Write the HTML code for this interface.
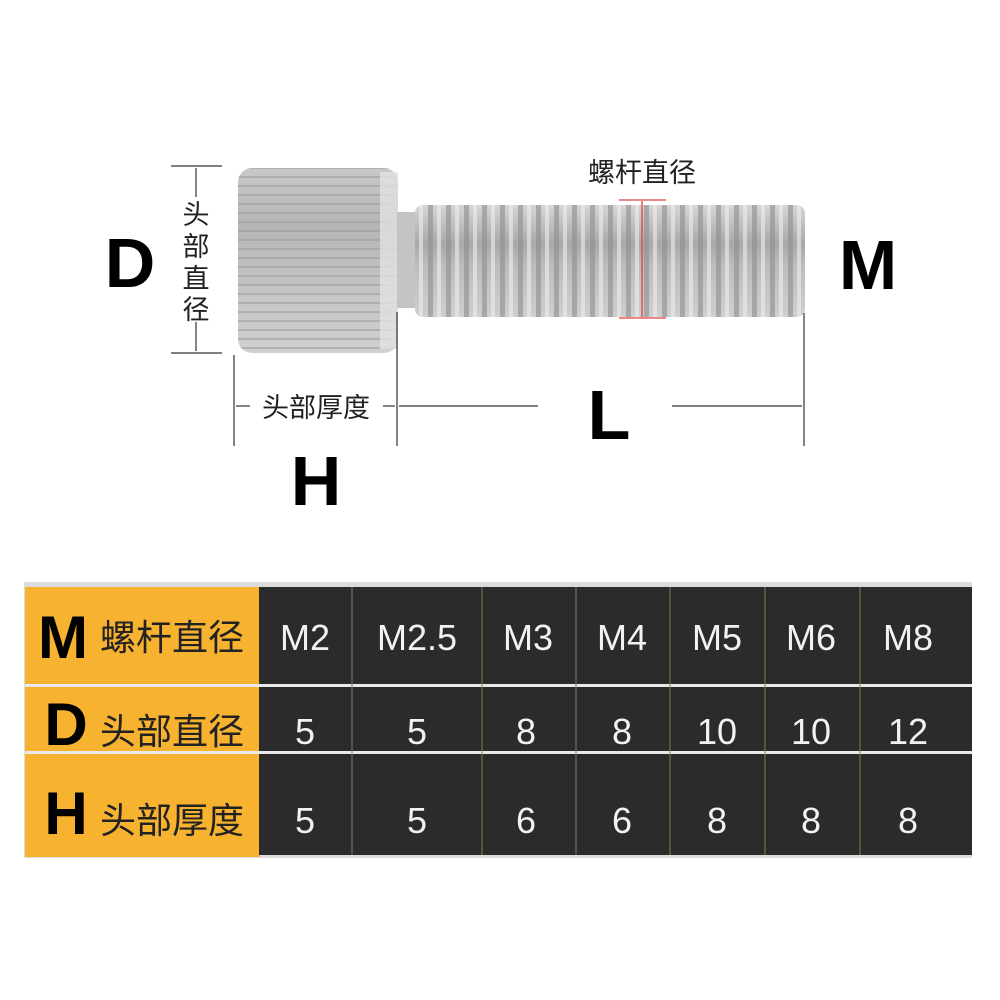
<!DOCTYPE html>
<html><head><meta charset="utf-8"><style>
html,body{margin:0;padding:0;background:#fff;width:1000px;height:1000px;overflow:hidden}
svg{display:block}
text{font-family:"Liberation Sans","Noto Sans CJK SC",sans-serif}
</style></head><body>
<svg width="1000" height="1000" viewBox="0 0 1000 1000" xmlns="http://www.w3.org/2000/svg">
<defs>
<linearGradient id="hg" x1="0" y1="0" x2="0" y2="1">
<stop offset="0" stop-color="#c9c9c9"/><stop offset="0.3" stop-color="#b5b5b5"/><stop offset="0.6" stop-color="#c2c2c2"/><stop offset="1" stop-color="#d0d0d0"/></linearGradient>
<linearGradient id="sg" x1="0" y1="0" x2="0" y2="1">
<stop offset="0" stop-color="#d6d6d6"/><stop offset="0.35" stop-color="#a9a9a9"/><stop offset="0.55" stop-color="#bdbdbd"/><stop offset="1" stop-color="#cfcfcf"/></linearGradient>
<pattern id="knurl" width="160" height="9" patternUnits="userSpaceOnUse">
<rect width="160" height="9" fill="none"/><rect y="5" width="160" height="2" fill="#9a9a9a" opacity="0.55"/></pattern>
<pattern id="thr" width="18" height="120" patternUnits="userSpaceOnUse" x="410">
<rect x="0" width="5" height="120" fill="#8e8e8e" opacity="0.6"/><rect x="9" width="4" height="120" fill="#eeeeee" opacity="0.6"/></pattern>
</defs>

<rect x="238" y="168" width="160" height="185" rx="14" fill="url(#hg)"/>
<rect x="238" y="168" width="160" height="185" rx="14" fill="url(#knurl)"/>
<rect x="380" y="172" width="18" height="177" fill="#e2e2e2" opacity="0.8"/>
<rect x="397" y="212" width="30" height="96" fill="#c4c4c4"/>
<rect x="415" y="205" width="390" height="112" rx="8" fill="url(#sg)"/>
<rect x="415" y="205" width="390" height="112" rx="8" fill="url(#thr)"/>

<g stroke="#e04040" stroke-width="1.3">
<line x1="619" y1="200" x2="666" y2="200"/><line x1="619" y1="318" x2="666" y2="318"/>
<line x1="642" y1="201" x2="642" y2="317"/></g>

<g stroke="#333" stroke-width="1.2">
<line x1="171" y1="166" x2="222" y2="166"/><line x1="171" y1="353" x2="222" y2="353"/>
<line x1="196" y1="168" x2="196" y2="197"/><line x1="196" y1="322" x2="196" y2="351"/>
<line x1="234" y1="355" x2="234" y2="446"/><line x1="397" y1="312" x2="397" y2="446"/>
<line x1="804" y1="313" x2="804" y2="446"/>
<line x1="236" y1="406" x2="250" y2="406"/><line x1="383" y1="406" x2="395" y2="406"/>
<line x1="399" y1="406" x2="538" y2="406"/><line x1="672" y1="406" x2="802" y2="406"/>
</g>
<g font-size="27" text-anchor="middle" fill="#222">
<text x="196" y="224">头</text><text x="196" y="256">部</text><text x="196" y="288">直</text><text x="196" y="319">径</text>
<text x="316" y="417">头部厚度</text>
<text x="642" y="182">螺杆直径</text></g>
<g font-size="70" font-weight="bold" text-anchor="middle">
<text x="130" y="287">D</text><text x="868" y="289">M</text><text x="609" y="439">L</text><text x="316" y="505">H</text></g>

<rect x="24" y="582" width="948" height="276" fill="#dcdcdc"/>
<rect x="25" y="587" width="235" height="270" fill="#f7b22f"/>
<rect x="259" y="587" width="713" height="268" fill="#2b2b2b"/>
<g fill="#e9e9e9"><rect x="25" y="684" width="947" height="3"/><rect x="25" y="751" width="947" height="3"/></g>
<g stroke="#8a7a50" stroke-width="1"><line x1="352" y1="587" x2="352" y2="855"/><line x1="482" y1="587" x2="482" y2="855"/><line x1="576" y1="587" x2="576" y2="855"/><line x1="670" y1="587" x2="670" y2="855"/><line x1="765" y1="587" x2="765" y2="855"/><line x1="860" y1="587" x2="860" y2="855"/></g>
<g font-size="60" font-weight="bold" text-anchor="middle" fill="#000">
<text x="63" y="658">M</text><text x="66" y="745">D</text><text x="66" y="834">H</text></g>
<g font-size="36" fill="#222"><text x="100" y="650">螺杆直径</text><text x="100" y="744">头部直径</text><text x="100" y="833">头部厚度</text></g>
<g font-size="36" fill="#f2f2f2" text-anchor="middle">
<text x="305" y="650">M2</text><text x="417" y="650">M2.5</text><text x="528" y="650">M3</text><text x="622" y="650">M4</text><text x="717" y="650">M5</text><text x="811" y="650">M6</text><text x="908" y="650">M8</text>
<text x="305" y="744">5</text><text x="417" y="744">5</text><text x="526" y="744">8</text><text x="622" y="744">8</text><text x="717" y="744">10</text><text x="811" y="744">10</text><text x="908" y="744">12</text>
<text x="305" y="833">5</text><text x="417" y="833">5</text><text x="526" y="833">6</text><text x="622" y="833">6</text><text x="717" y="833">8</text><text x="811" y="833">8</text><text x="908" y="833">8</text>
</g>
</svg>
</body></html>
